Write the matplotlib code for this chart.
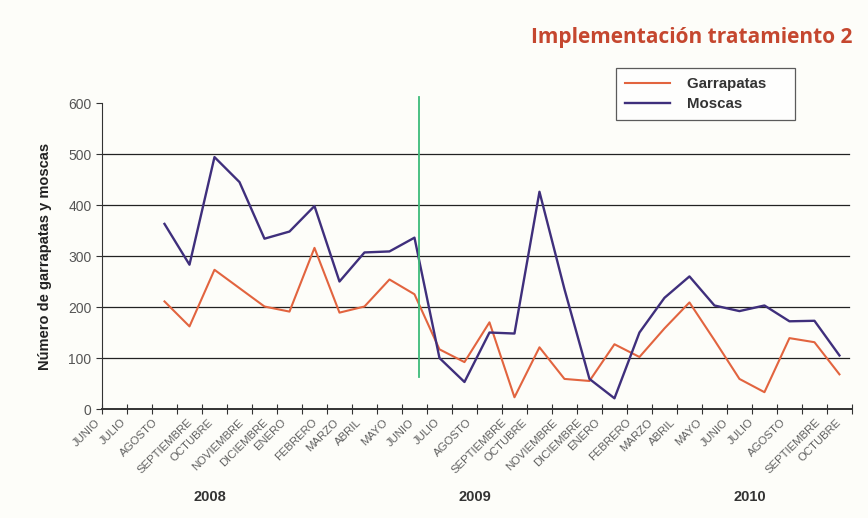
import numpy as np
import matplotlib
matplotlib.use("Agg")
import matplotlib.pyplot as plt

plt.rcParams["font.family"] = ["Liberation Sans", "DejaVu Sans"]

# category labels along the x axis (29 months, jun 2008 - oct 2010)
months = ["JUNIO", "JULIO", "AGOSTO", "SEPTIEMBRE", "OCTUBRE", "NOVIEMBRE",
          "DICIEMBRE", "ENERO", "FEBRERO", "MARZO", "ABRIL", "MAYO", "JUNIO",
          "JULIO", "AGOSTO", "SEPTIEMBRE", "OCTUBRE", "NOVIEMBRE", "DICIEMBRE",
          "ENERO", "FEBRERO", "MARZO", "ABRIL", "MAYO", "JUNIO", "JULIO",
          "AGOSTO", "SEPTIEMBRE", "OCTUBRE"]
years = ["2008", "2009", "2010"]

# series (chart has 30 slots on the axis, data starts in slot 2)
n_slots = 30
first_slot = 2
garrapatas = [211, 162, 273, 237, 201, 191, 316, 189, 201, 254, 225, 117,
              92, 170, 23, 121, 59, 55, 127, 102, 158, 209, 135, 59, 33,
              139, 131, 68]
moscas = [363, 283, 494, 445, 334, 348, 398, 250, 307, 309, 336, 100,
          53, 150, 148, 426, 235, 59, 21, 150, 218, 260, 203, 192, 203,
          172, 173, 105]

treatment_slot = 12.2  # green line: start of treatment 2

c_garr = "#e2643f"
c_mosc = "#3f2f7c"

fig = plt.figure(figsize=(8.68, 5.18), dpi=100, facecolor="#fdfdf9")
ax = fig.add_axes([0.1175, 0.2104, 0.864, 0.5907])
ax.set_facecolor("none")

x = np.arange(first_slot, first_slot + len(moscas))
ax.plot(x, garrapatas, color=c_garr, lw=1.5, label="Garrapatas     ")
ax.plot(x, moscas, color=c_mosc, lw=1.7, label="Moscas")

ax.plot([treatment_slot, treatment_slot], [62, 612], color="#3dbb7a",
        lw=1.3, clip_on=False)

ax.set_xlim(-0.5, n_slots - 0.5)
ax.set_ylim(0, 600)

# horizontal gridlines
for v in range(100, 600, 100):
    ax.plot([-0.5, n_slots - 0.6], [v, v], color="#222222", lw=0.9, zorder=0)

for s in ["top", "right"]:
    ax.spines[s].set_visible(False)
ax.spines["left"].set_color("#333333")
ax.spines["bottom"].set_color("#333333")
ax.spines["bottom"].set_linewidth(1.4)

ax.set_yticks(range(0, 700, 100))
ax.tick_params(axis="y", labelsize=10, labelcolor="#555555", length=4,
               color="#333333")

ax.set_xticks(np.arange(-0.5, n_slots, 1.0))
ax.set_xticklabels([])
ax.tick_params(axis="x", direction="inout", length=7, color="#333333")

label_pos = np.linspace(-1.1, 28.2, len(months))
for p, m in zip(label_pos, months):
    ax.text(p, -16, m, rotation=45, ha="center", va="top",
            fontsize=8.2, color="#606060")

for xp, yr in zip([3.8, 14.4, 25.4], years):
    ax.text(xp, -172, yr, ha="center", va="center", fontsize=10.5,
            fontweight="bold", color="#333333")

ax.set_ylabel("Número de garrapatas y moscas", fontsize=10.5,
              fontweight="bold", color="#222222", labelpad=12)

fig.text(0.982, 0.928, "Implementación tratamiento 2", ha="right",
         va="center", fontsize=15, fontweight="bold", color="#c5472f",
         family=["Open Sans", "DejaVu Sans"])

leg = fig.legend(loc="upper left", bbox_to_anchor=(0.7097, 0.869),
                 borderaxespad=0, frameon=True, fancybox=False,
                 fontsize=10.8, handlelength=3.0, handletextpad=1.1,
                 borderpad=0.6, labelspacing=0.4)
leg.get_frame().set_edgecolor("#333333")
leg.get_frame().set_linewidth(0.9)
for t in leg.get_texts():
    t.set_fontweight("bold")
    t.set_color("#333333")

fig.savefig("out.png", dpi=100, facecolor=fig.get_facecolor())
